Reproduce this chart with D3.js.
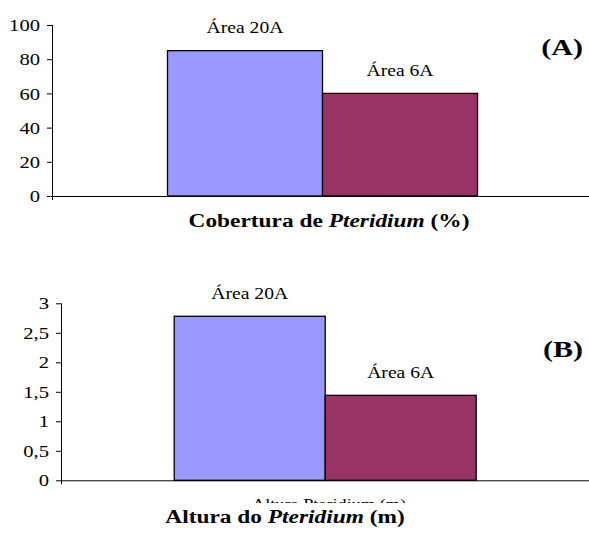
<!DOCTYPE html>
<html>
<head>
<meta charset="utf-8">
<script src="https://cdn.jsdelivr.net/npm/d3@7"></script>
<style>
  html, body { margin: 0; padding: 0; background: #fff; }
  svg { display: block; }
  text { font-family: "Liberation Serif", "Times New Roman", serif; fill: #000; }
</style>
</head>
<body>
<svg id="chart" width="589" height="538"></svg>
<script>
// ---- data ----
const series = ["Área 20A", "Área 6A"];
const seriesColors = ["#9999FF", "#993366"];
const coberturaValues = [85, 60];
const alturaValues = [2.78, 1.44];
const coberturaTicks = [0, 20, 40, 60, 80, 100];
const coberturaTickLabels = ["0", "20", "40", "60", "80", "100"];
const alturaTicks = [0, 0.5, 1, 1.5, 2, 2.5, 3];
const alturaTickLabels = ["0", "0,5", "1", "1,5", "2", "2,5", "3"];
const panelTags = ["(A)", "(B)"];
const hiddenCategory = "Altura Pteridium (m)";

const SX = 1.25; // horizontal stretch of the original picture
const svg = d3.select("#chart");

function addText(parent, x, y, str, size, weight, anchor) {
  return parent.append("text")
    .attr("transform", `translate(${x},${y}) scale(${SX},1)`)
    .attr("text-anchor", anchor || "middle")
    .style("font-size", size + "px")
    .style("font-weight", weight || "normal")
    .text(str);
}

function panel(cfg) {
  const g = svg.append("g");
  const y = d3.scaleLinear().domain(cfg.domain).range([cfg.y0, cfg.y1]);
  const x = d3.scaleBand().domain(series).range([cfg.x0, cfg.x1])
    .paddingInner(0).paddingOuter(cfg.outer);

  // bars
  g.selectAll("rect.bar").data(cfg.values).enter().append("rect")
    .attr("class", "bar")
    .attr("x", (d, i) => x(series[i]))
    .attr("width", x.bandwidth())
    .attr("y", d => y(d))
    .attr("height", d => y(0) - y(d))
    .attr("fill", (d, i) => seriesColors[i])
    .attr("stroke", "#000")
    .attr("stroke-width", 1.3);

  // bar labels
  cfg.values.forEach((v, i) => {
    addText(g, x(series[i]) + x.bandwidth() / 2, y(v) - 17.5, series[i], 15.7, "normal", "middle");
  });

  // y axis
  const ay = g.append("g").attr("transform", `translate(${cfg.x0},0)`)
    .call(d3.axisLeft(y).tickValues(cfg.ticks)
      .tickFormat((d, i) => cfg.tickLabels[i]).tickSize(5).tickSizeOuter(0));
  ay.select(".domain").attr("stroke", "#000").attr("stroke-width", 1)
    .attr("d", `M0.5,${cfg.y0 + 4}V${cfg.y1}`);
  ay.selectAll(".tick line").attr("stroke", "#000");
  ay.selectAll(".tick text")
    .attr("x", -12 / SX)
    .attr("dy", "0.34em")
    .attr("transform", `scale(${SX},1)`)
    .style("font-size", "16.5px")
    .style("font-family", "Liberation Serif, serif");

  // x axis baseline
  g.append("line")
    .attr("x1", cfg.x0).attr("x2", 589)
    .attr("y1", y(0) + 0.5).attr("y2", y(0) + 0.5)
    .attr("stroke", "#000").attr("stroke-width", 1);

  // panel tag
  addText(g, 583, cfg.tagY, cfg.tag, 24, "bold", "end");
  return { g, x, y };
}

// Panel A
panel({
  domain: [0, 100], y0: 196, y1: 25, x0: 52, x1: 593, outer: 0.745,
  values: coberturaValues, ticks: coberturaTicks, tickLabels: coberturaTickLabels,
  tag: panelTags[0], tagY: 55
});

// Title A
const tA = svg.append("text")
  .attr("transform", `translate(329,227) scale(${SX},1)`)
  .attr("text-anchor", "middle")
  .style("font-size", "18.7px").style("font-weight", "bold");
tA.append("tspan").text("Cobertura de ");
tA.append("tspan").style("font-style", "italic").text("Pteridium");
tA.append("tspan").text(" (%)");

// Panel B
panel({
  domain: [0, 3], y0: 480.3, y1: 303.3, x0: 61, x1: 589.4, outer: 0.75,
  values: alturaValues, ticks: alturaTicks, tickLabels: alturaTickLabels,
  tag: panelTags[1], tagY: 357
});

// clipped category label in B (only its top edge shows in the original)
svg.append("clipPath").attr("id", "clipCat")
  .append("rect").attr("x", 0).attr("y", 490).attr("width", 589).attr("height", 13);
const cat = svg.append("g").attr("clip-path", "url(#clipCat)");
addText(cat, 329, 509, hiddenCategory, 14.6, "normal", "middle");

// Title B
const tB = svg.append("text")
  .attr("transform", `translate(285,523) scale(${SX},1)`)
  .attr("text-anchor", "middle")
  .style("font-size", "18.7px").style("font-weight", "bold");
tB.append("tspan").text("Altura do ");
tB.append("tspan").style("font-style", "italic").text("Pteridium");
tB.append("tspan").text(" (m)");
</script>
</body>
</html>
